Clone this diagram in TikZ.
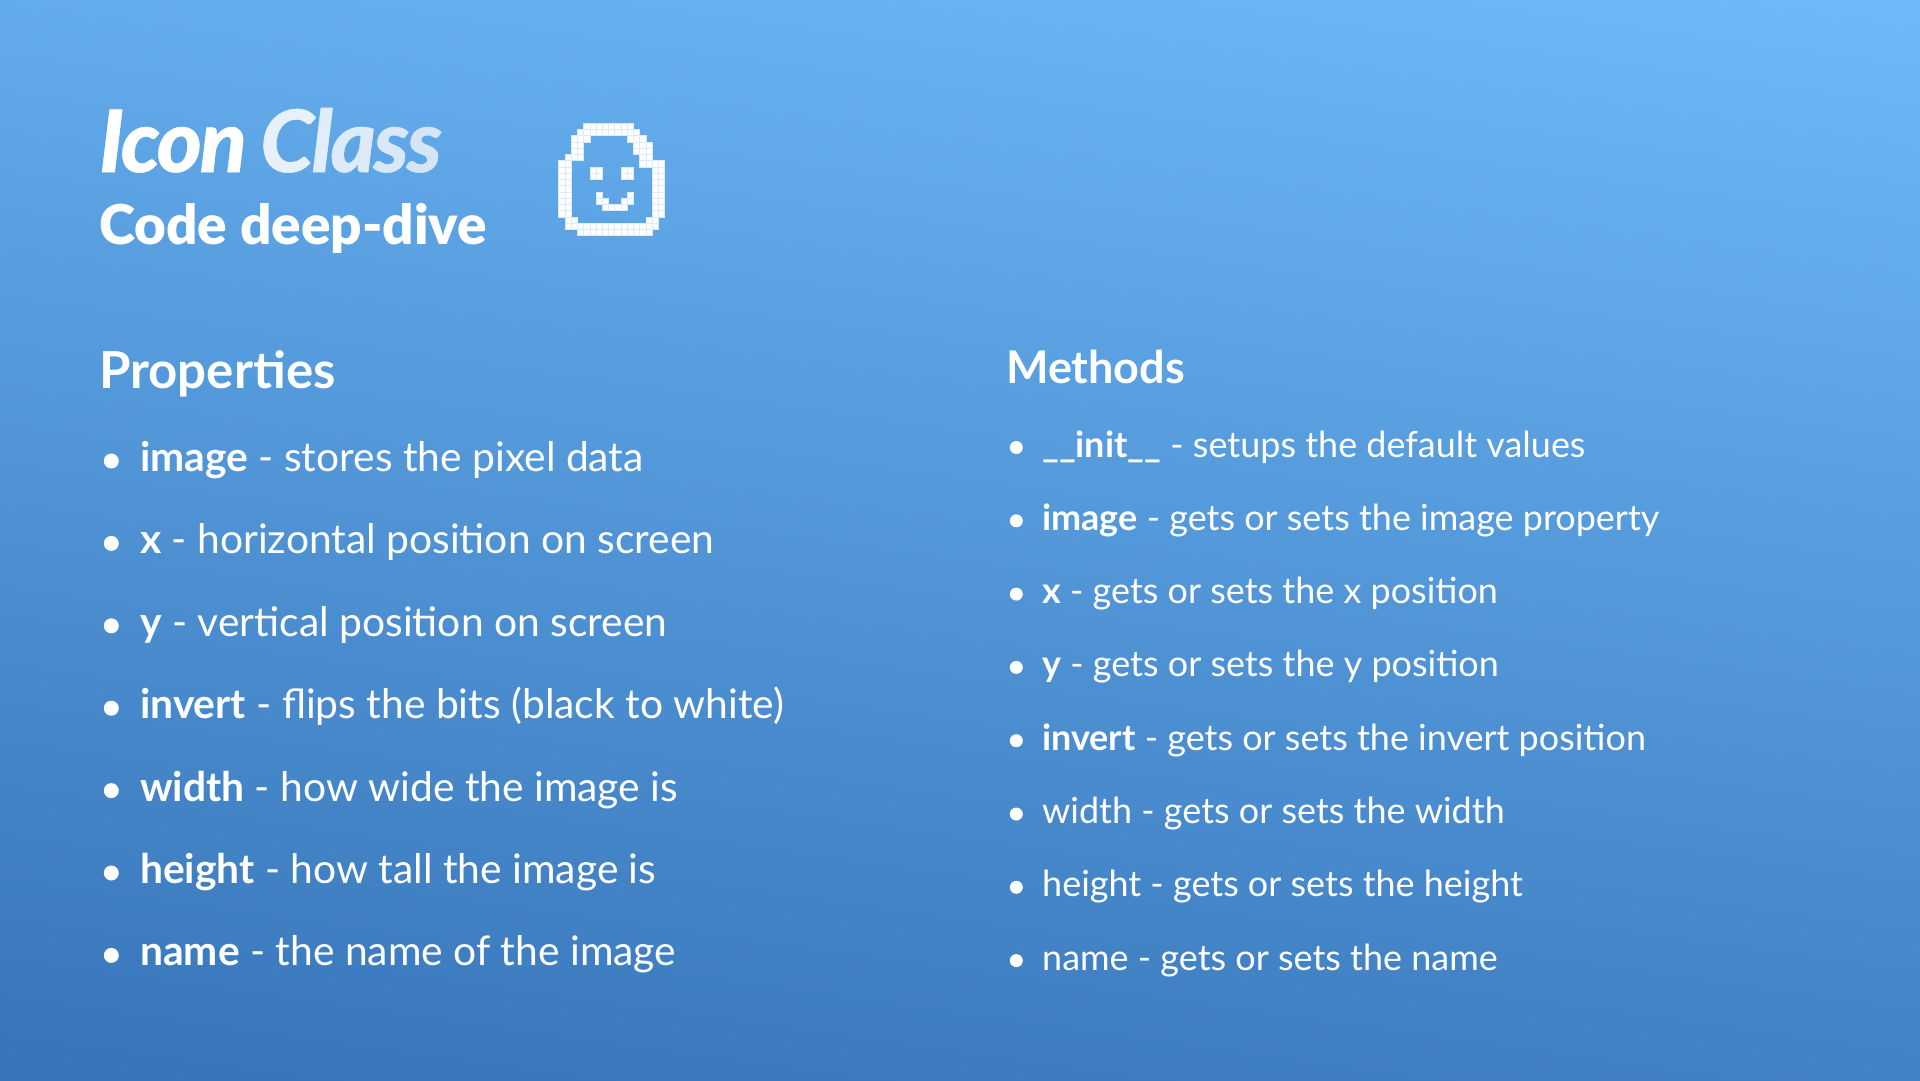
\documentclass[tikz,border=0pt]{standalone}
\usepackage{xcolor}
\usepackage{fontspec}
\setmainfont{Lato}
\newfontfamily\heavyfont{Lato Black}
\newfontfamily\heavyital[LetterSpace=-2.4,FakeBold=0.6]{Lato Black Italic}
\usepackage{tikz}
\usetikzlibrary{positioning}
\definecolor{bgtop}{HTML}{6DB8F7}
\definecolor{bgbot}{HTML}{3775B9}
\definecolor{pixedge}{HTML}{DCEBFA}
\newcommand{\pixrow}[2]{\foreach \c in {#2} \node[pix] (p#1-\c) at (\c*6.24pt+558.3pt, -#1*6.24pt-123pt) {};}

\begin{document}
\begin{tikzpicture}[
  font=\fontsize{40.75pt}{48pt}\selectfont,
  text=white,
  x=1pt, y=1pt,
  pix/.style={draw=pixedge, line width=0.4pt, fill=white, anchor=north west, minimum size=6.24pt, inner sep=0pt},
  prop/.style={anchor=west, inner sep=0pt, text height=30pt, text depth=9pt},
  meth/.style={anchor=west, inner sep=0pt, font=\fontsize{35.95pt}{44pt}\selectfont, text height=27pt, text depth=8pt},
  dot/.style={circle, fill=white, inner sep=0pt, minimum size=15pt},
  mdot/.style={circle, fill=white, inner sep=0pt, minimum size=13pt},
  node distance=43pt and 21pt]
\useasboundingbox (0,0) rectangle (1920,-1080);
\shade[top color=bgtop, bottom color=bgbot, shading angle=-8] (-60,60) rectangle (1980,-1140);

\node[anchor=base west, inner sep=0pt, font=\fontsize{86pt}{90pt}\heavyital] (title) at (99,-172)
  {\textcolor{white}{Icon} \kern-2.5pt\textcolor[HTML]{E6F1FB}{C}\kern-2pt\textcolor[HTML]{E1EEFA}{l}\kern-2pt\textcolor[HTML]{DDEBF9}{a}\kern-2pt\textcolor[HTML]{D8E8F8}{s}\kern-2pt\textcolor[HTML]{D3E5F7}{s}};
\node[anchor=base west, inner sep=0pt, font=\fontsize{54.8pt}{60pt}\heavyfont] (subtitle) at (99,-244) {Code deep-dive};

% pixel face
\pixrow{0}{4,...,11}
\pixrow{1}{3,...,12}
\pixrow{2}{2,3,4,11,12,13}
\pixrow{3}{2,3,12,13,14}
\pixrow{4}{2,3,12,13,14}
\pixrow{5}{1,2,3,13,14}
\pixrow{6}{0,1,13,14,15,16}
\pixrow{7}{0,1,5,6,10,11,15,16}
\pixrow{8}{0,1,5,6,10,11,15,16}
\pixrow{9}{0,1,15,16}
\pixrow{10}{0,1,15,16}
\pixrow{11}{0,1,6,11,15,16}
\pixrow{12}{0,1,6,7,10,11,15,16}
\pixrow{13}{0,1,7,8,9,10,15,16}
\pixrow{14}{0,1,15,16}
\pixrow{15}{1,2,14,15}
\pixrow{16}{1,...,15}
\pixrow{17}{3,...,14}

% properties
\node[anchor=base west, inner sep=0pt, font=\fontsize{51pt}{56pt}\bfseries\selectfont] (props) at (99,-388) {Properties};
\node[prop] (p1) at (140,-461) {\textbf{image} - stores the pixel data};
\node[prop, below=of p1.south west, anchor=north west] (p2) {\textbf{x} - horizontal position on screen};
\node[prop, below=of p2.south west, anchor=north west] (p3) {\textbf{y} - vertical position on screen};
\node[prop, below=of p3.south west, anchor=north west] (p4) {\textbf{invert} - flips the bits (black to white)};
\node[prop, below=of p4.south west, anchor=north west] (p5) {\textbf{width} - how wide the image is};
\node[prop, below=of p5.south west, anchor=north west] (p6) {\textbf{height} - how tall the image is};
\node[prop, below=of p6.south west, anchor=north west] (p7) {\textbf{name} - the name of the image};
\node[dot, left=of p1] (d1) {};
\node[dot, left=of p2] (d2) {};
\node[dot, left=of p3] (d3) {};
\node[dot, left=of p4] (d4) {};
\node[dot, left=of p5] (d5) {};
\node[dot, left=of p6] (d6) {};
\node[dot, left=of p7] (d7) {};

% methods
\node[anchor=base west, inner sep=0pt, font=\fontsize{45pt}{52pt}\bfseries\selectfont] (meths) at (1006,-383) {Methods};
\node[meth] (m1) at (1042,-447.5) {\textbf{\_\_init\_\_} - setups the default values};
\node[meth, below=37.9pt of m1.south west, anchor=north west] (m2) {\textbf{image} - gets or sets the image property};
\node[meth, below=37.9pt of m2.south west, anchor=north west] (m3) {\textbf{x} - gets or sets the x position};
\node[meth, below=37.9pt of m3.south west, anchor=north west] (m4) {\textbf{y} - gets or sets the y position};
\node[meth, below=37.9pt of m4.south west, anchor=north west] (m5) {\textbf{invert} - gets or sets the invert position};
\node[meth, below=37.9pt of m5.south west, anchor=north west] (m6) {width - gets or sets the width};
\node[meth, below=37.9pt of m6.south west, anchor=north west] (m7) {height - gets or sets the height};
\node[meth, below=37.9pt of m7.south west, anchor=north west] (m8) {name - gets or sets the name};
\node[mdot, left=19pt of m1] (e1) {};
\node[mdot, left=19pt of m2] (e2) {};
\node[mdot, left=19pt of m3] (e3) {};
\node[mdot, left=19pt of m4] (e4) {};
\node[mdot, left=19pt of m5] (e5) {};
\node[mdot, left=19pt of m6] (e6) {};
\node[mdot, left=19pt of m7] (e7) {};
\node[mdot, left=19pt of m8] (e8) {};
\end{tikzpicture}
\end{document}
